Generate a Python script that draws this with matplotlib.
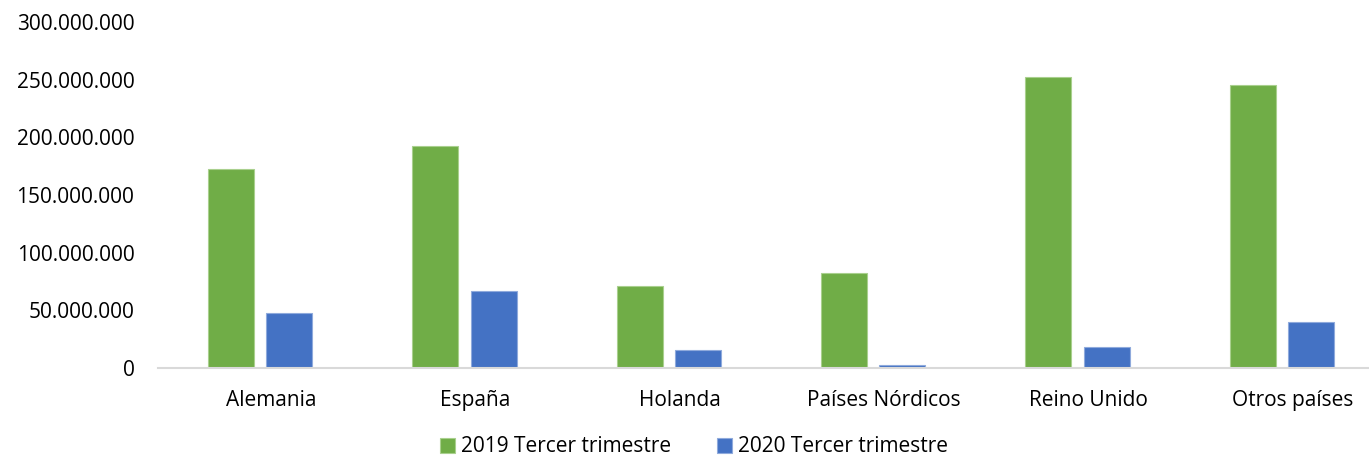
import matplotlib.pyplot as plt
from matplotlib.ticker import FuncFormatter, MultipleLocator
from matplotlib.transforms import ScaledTranslation
import numpy as np

plt.rcParams['font.family'] = ['Open Sans', 'DejaVu Sans']

# Data
paises = ['Alemania', 'España', 'Holanda', 'Países Nórdicos', 'Reino Unido', 'Otros países']
t3_2019 = [172500000, 192200000, 70800000, 82100000, 252600000, 245100000]
t3_2020 = [47700000, 66500000, 15300000, 2600000, 17900000, 40200000]
series_labels = ['2019 Tercer trimestre', '2020 Tercer trimestre']

green = '#70AD47'
blue = '#4472C4'

fig = plt.figure(figsize=(13.69, 4.59), dpi=100)
ax = fig.add_axes([158 / 1369, 91 / 459, 1226 / 1369, 346 / 459])

x = np.arange(len(paises))
w = 0.225
off = 0.142
ax.bar(x - off, t3_2019, w, color=green, edgecolor='#a9d08e', linewidth=0.8, label=series_labels[0])
ax.bar(x + off, t3_2020, w, color=blue, edgecolor='#8faadc', linewidth=0.8, label=series_labels[1])

ax.set_xlim(-0.5, len(paises) - 0.5)
ax.set_ylim(0, 300000000)
ax.yaxis.set_major_locator(MultipleLocator(50000000))
ax.yaxis.set_major_formatter(FuncFormatter(lambda v, p: f"{int(v):,}".replace(',', '.')))

ax.set_xticks(x)
ax.set_xticklabels(paises)
ax.tick_params(axis='both', length=0, labelsize=15, colors='#000000')
ax.tick_params(axis='y', pad=17)
ax.tick_params(axis='x', pad=15.5)

# category labels sit slightly right of the bar groups, as in the original
shift = ScaledTranslation(11 / 100, 0, fig.dpi_scale_trans)
for lbl in ax.get_xticklabels():
    lbl.set_transform(lbl.get_transform() + shift)

for s in ['top', 'right', 'left']:
    ax.spines[s].set_visible(False)
ax.spines['bottom'].set_color('#D9D9D9')
ax.spines['bottom'].set_linewidth(1.5)

fig.legend(loc='center', bbox_to_anchor=(694 / 1369, 1 - 447 / 459), ncol=2, frameon=False,
           fontsize=15, handlelength=0.7, handleheight=0.7, handletextpad=0.3, columnspacing=2.2)

plt.savefig('out.png', dpi=100)
plt.close()
